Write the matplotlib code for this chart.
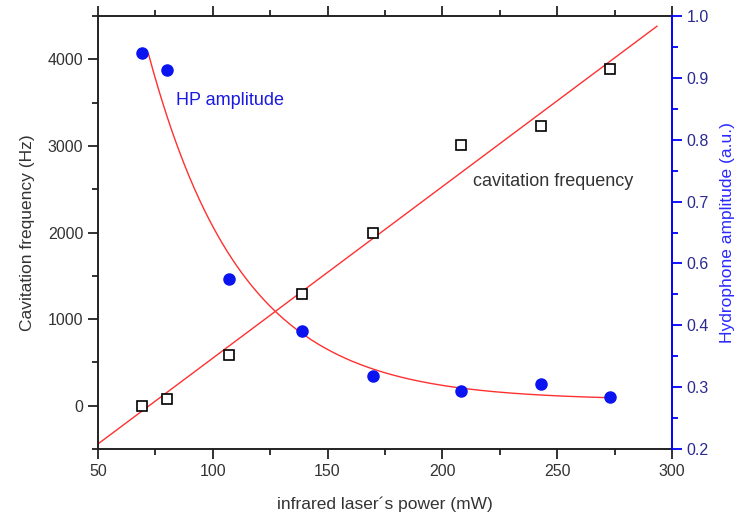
import numpy as np
import matplotlib
matplotlib.use("Agg")
import matplotlib.pyplot as plt
from matplotlib.ticker import MultipleLocator, FixedLocator

plt.rcParams['font.family'] = ['Liberation Sans', 'DejaVu Sans']

# laser power (mW)
power = [69, 80, 107, 139, 170, 208, 243, 273]
# cavitation frequency (Hz), open squares
cav_freq = [0, 80, 580, 1290, 2000, 3010, 3230, 3890]
# hydrophone amplitude, in right-axis units (the axis is labelled as printed)
hp_amp = [0.841, 0.813, 0.475, 0.390, 0.318, 0.294, 0.305, 0.284]
right_ticks = [0.2, 0.3, 0.4, 0.5, 0.6, 0.7, 0.8, 0.9]
right_labels = ['0.2', '0.3', '0.4', '0.6', '0.7', '0.8', '0.9', '1.0']

fig = plt.figure(figsize=(7.4, 5.17), dpi=100)
ax = fig.add_axes([0.1324, 0.1315, 0.7756, 0.8375])
ax2 = ax.twinx()

# linear fit of the frequency
k, b = np.polyfit(power, cav_freq, 1)
xl = np.linspace(50, 293.5, 50)
ax.plot(xl, k * xl + b, color='#ff3030', lw=1.0, zorder=2)
ax.plot(power, cav_freq, ls='none', marker='s', ms=7, mfc='white',
        mec='black', mew=1.2, zorder=3)

# exponential decay fit of the amplitude: y0 + A*exp(-x/t)
p = np.array(power, float)
a = np.array(hp_amp)
best = None
for t in np.linspace(20, 90, 701):
    M = np.column_stack([np.ones_like(p), np.exp(-p / t)])
    c, res, *_ = np.linalg.lstsq(M, a, rcond=None)
    r = np.sum((M @ c - a) ** 2)
    if best is None or r < best[0]:
        best = (r, t, c)
_, t, c = best
xe = np.linspace(72, 273, 200)
ax2.plot(xe, c[0] + c[1] * np.exp(-xe / t), color='#ff3030', lw=1.0, zorder=2)
ax2.plot(power, hp_amp, ls='none', marker='o', ms=8, color='#0a14f0', zorder=3)

ax.set_xlim(50, 300)
ax.set_ylim(-500, 4500)
ax2.set_ylim(0.2, 0.9)

ax.xaxis.set_major_locator(MultipleLocator(50))
ax.xaxis.set_minor_locator(MultipleLocator(25))
ax.yaxis.set_major_locator(MultipleLocator(1000))
ax.yaxis.set_minor_locator(MultipleLocator(500))
ax2.yaxis.set_major_locator(FixedLocator(right_ticks))
ax2.set_yticklabels(right_labels)
ax2.yaxis.set_minor_locator(MultipleLocator(0.05))

ax.tick_params(which='both', direction='out', top=True, width=1.3,
               labelsize=11.5, labelcolor='#333333', color='#222222')
ax.tick_params(which='major', length=7)
ax.tick_params(which='minor', length=4)
ax2.tick_params(which='both', direction='out', width=1.3, color='#0000ff',
                labelsize=11.5, labelcolor='#2a2a90')
ax2.tick_params(which='major', length=7)
ax2.tick_params(which='minor', length=4)

for s in ['left', 'bottom', 'top']:
    ax.spines[s].set_linewidth(1.4)
    ax.spines[s].set_color('#222222')
ax.spines['right'].set_visible(False)
for s in ['left', 'bottom', 'top']:
    ax2.spines[s].set_visible(False)
ax2.spines['right'].set_color('#0000ff')
ax2.spines['right'].set_linewidth(1.4)

ax.set_xlabel('infrared laser\u00b4s power (mW)', fontsize=12.5,
              color='#333333', labelpad=13)
ax.set_ylabel('Cavitation frequency (Hz)', fontsize=12.5,
              color='#333333', labelpad=9)
ax2.set_ylabel('Hydrophone amplitude (a.u.)', fontsize=12.5,
               color='#2a2aff', labelpad=8)

ax.text(0.136, 0.804, 'HP amplitude', transform=ax.transAxes,
        fontsize=13, color='#1a1ae0', va='center', ha='left')
ax.text(0.653, 0.617, 'cavitation frequency', transform=ax.transAxes,
        fontsize=13, color='#333333', va='center', ha='left')

fig.savefig('out.png', dpi=100)
